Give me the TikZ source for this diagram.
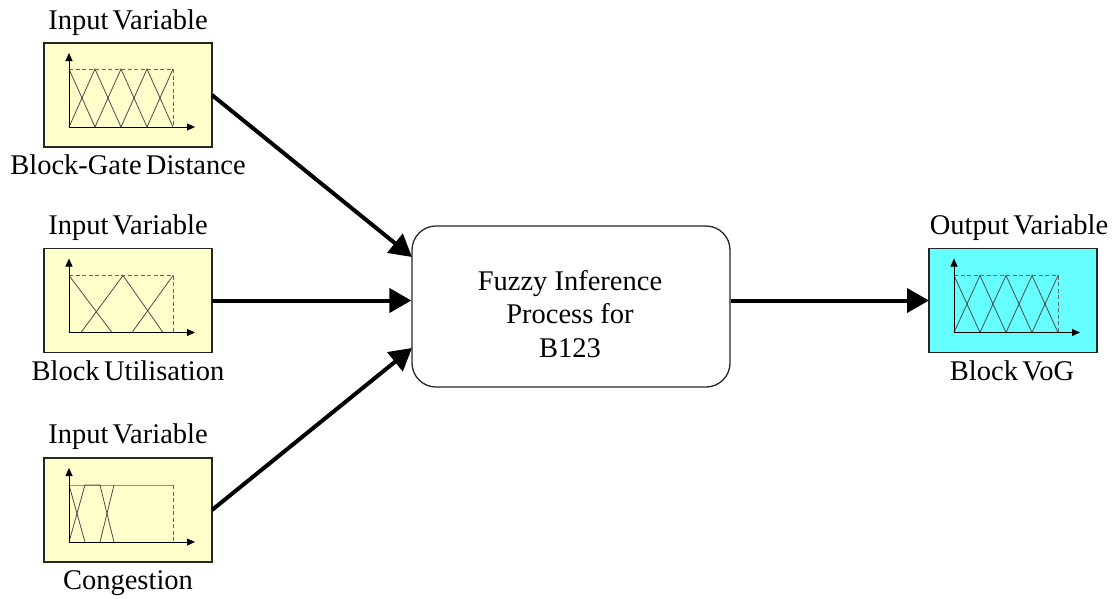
\documentclass[tikz,border=0pt]{standalone}
\usepackage{fontspec}
\setmainfont{Liberation Serif}
\newfontfamily\lblfont[WordSpace=0.6]{Liberation Serif}
\usetikzlibrary{arrows.meta}
\definecolor{inyellow}{HTML}{FFFFCC}
\definecolor{outcyan}{HTML}{66FFFF}
\begin{document}
\begin{tikzpicture}[x=1pt,y=-1pt,
  varbox/.style={draw=black!85, line width=1.3pt, minimum width=168pt, minimum height=104pt,
                 inner sep=0pt, outer sep=0pt},
  inbox/.style={varbox, fill=inyellow},
  outbox/.style={varbox, fill=outcyan},
  lbl/.style={font=\lblfont\fontsize{28.5}{32}\selectfont, inner sep=0pt, anchor=base},
  procbox/.style={draw=black!85, line width=1.3pt, rounded corners=24pt, minimum width=318pt,
                  minimum height=161pt},
  proctext/.style={align=center, inner sep=0pt, font=\fontsize{28.5}{33.5}\selectfont},
  axis/.style={black, line width=0.9pt, -{Triangle[length=8pt,width=7pt]}},
  mf/.style={black!70, line width=0.8pt},
  guide/.style={black!60, line width=0.8pt, dashed, dash pattern=on 4pt off 2.5pt},
  bigarrow/.style={line width=4pt, -{Triangle[length=22pt,width=24pt]}}
]
\useasboundingbox (0,0) rectangle (1115,598);

% variable boxes
\node[inbox] (in1) at (128,95) {};
\node[inbox] (in2) at (128,300.5) {};
\node[inbox] (in3) at (128,510) {};
\node[outbox] (out) at (1013,300.5) {};

% membership plots: input 1
\begin{scope}[shift={(in1.north west)}]
  \draw[guide] (25,26) -- (129,26) -- (129,84);
  \draw[mf] (25,84) -- (51,26) -- (77,84) -- (103,26) -- (129,84);
  \draw[mf] (25,26) -- (51,84) -- (77,26) -- (103,84) -- (129,26);
  \draw[axis] (25,84) -- (25,10);
  \draw[axis] (25,84) -- (151,84);
\end{scope}
% input 2
\begin{scope}[shift={(in2.north west)}]
  \draw[guide] (25,27) -- (129,27) -- (129,84);
  \draw[mf] (25,27) -- (68,84);
  \draw[mf] (37,84) -- (79,27) -- (119,84);
  \draw[mf] (88,84) -- (129,27);
  \draw[axis] (25,84) -- (25,10);
  \draw[axis] (25,84) -- (151,84);
\end{scope}
% input 3
\begin{scope}[shift={(in3.north west)}]
  \draw[black!45, line width=0.8pt] (25,27) -- (129,27);
  \draw[guide] (129,27) -- (129,84);
  \draw[mf] (25,27) -- (41,84);
  \draw[mf] (25,84) -- (41,27) -- (56,27) -- (70,84);
  \draw[mf] (56,84) -- (70,27);
  \draw[axis] (25,84) -- (25,10);
  \draw[axis] (25,84) -- (151,84);
\end{scope}
% output
\begin{scope}[shift={(out.north west)}]
  \draw[guide] (25,27) -- (129,27) -- (129,84);
  \draw[mf] (25,84) -- (51,27) -- (77,84) -- (103,27) -- (129,84);
  \draw[mf] (25,27) -- (51,84) -- (77,27) -- (103,84) -- (129,27);
  \draw[axis] (25,84) -- (25,10);
  \draw[axis] (25,84) -- (151,84);
\end{scope}

% labels
\node[lbl] (t1) at (128,29) {Input Variable};
\node[lbl] (b1) at (128,174) {Block-Gate Distance};
\node[lbl] (t2) at (128,234) {Input Variable};
\node[lbl] (b2) at (128,380) {Block Utilisation};
\node[lbl] (t3) at (128,443) {Input Variable};
\node[lbl] (b3) at (128,589) {Congestion};
\node[lbl] (t4) at (1019,234) {Output Variable};
\node[lbl] (b4) at (1012,380) {Block VoG};

% process
\node[procbox] (proc) at (571,306.5) {};
\node[proctext] (ptext) at (570,314) {Fuzzy Inference\\Process for\\B123};

% connectors
\coordinate (p1) at (412,257);
\coordinate (p3) at (412,348);
\draw[bigarrow] (in1.east) -- (p1);
\draw[bigarrow] (in2.east) -- (in2.east -| proc.west);
\draw[bigarrow] (in3.east) -- (p3);
\draw[bigarrow] (proc.east |- out.west) -- (out.west);
\end{tikzpicture}
\end{document}
